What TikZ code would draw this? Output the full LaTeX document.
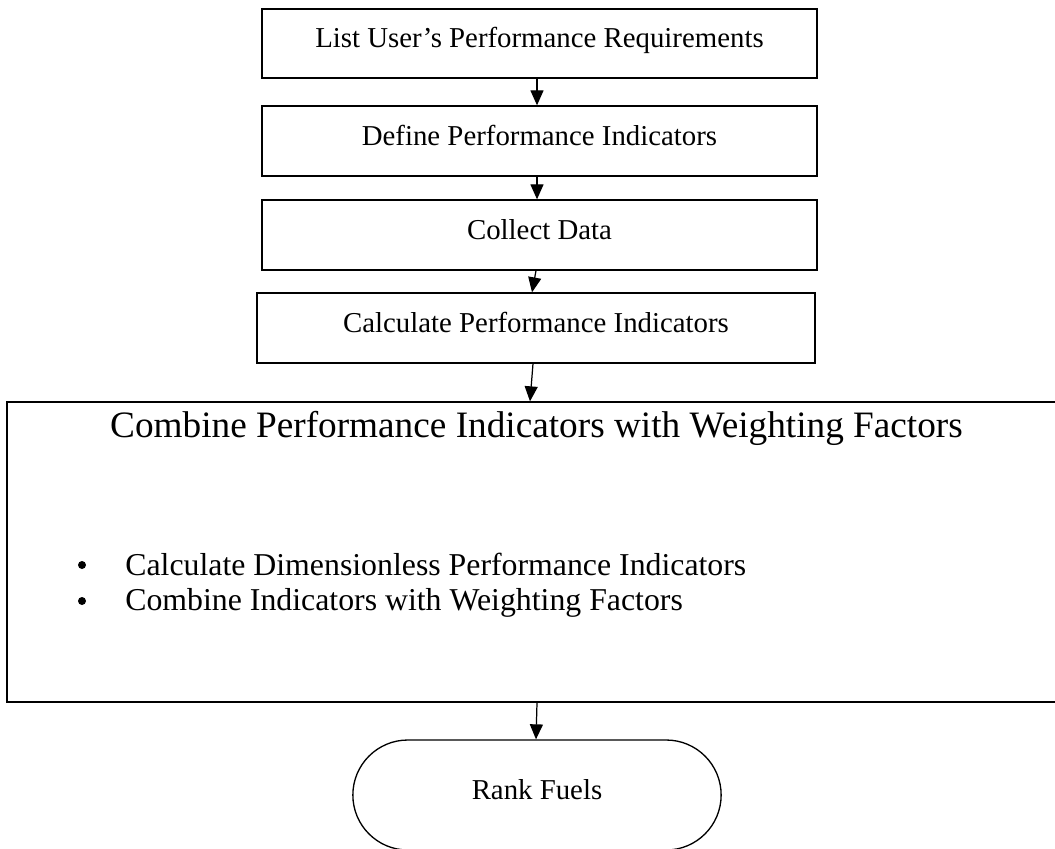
\documentclass[tikz,border=0pt]{standalone}
\usepackage{fontspec}
\setmainfont{Liberation Serif}
\usetikzlibrary{positioning,shapes.misc,arrows.meta}

\begin{document}
\begin{tikzpicture}[
    stepbox/.style={draw, line width=0.75pt, minimum width=11.1cm, minimum height=1.4cm,
        text height=0.40cm, text depth=0.24cm, font=\fontsize{16.4}{19}\selectfont},
    flow/.style={line width=0.7pt, -{Triangle[length=0.3cm, width=0.26cm]}}
]
    % Page size
    \useasboundingbox (0,0) rectangle (21.1,-16.96);
    \clip (0,0) rectangle (21.1,-16.96);

    % Draw steps
    \node[stepbox, minimum height=1.38cm] (list) at (10.79,-0.87) {List User’s Performance Requirements};
    \node[stepbox] (define) at (10.79,-2.82) {Define Performance Indicators};
    \node[stepbox] (collect) at (10.79,-4.70) {Collect Data};
    \node[stepbox, minimum width=11.16cm] (calc) at (10.72,-6.56) {Calculate Performance Indicators};

    % Draw combine box
    \node[draw, line width=0.75pt, minimum width=21.2cm, minimum height=6cm] (combine) at (10.74,-11.04) {};
    \node[anchor=base, font=\fontsize{21.2}{25}\selectfont] (combtitle) at (10.73,-8.74)
        {Combine Performance Indicators with Weighting Factors};
    \node[circle, fill, inner sep=0pt, minimum size=0.16cm] (dotA) at (1.64,-11.30) {};
    \node[anchor=base west, inner sep=0pt, font=\fontsize{18.1}{22}\selectfont] (itemA) at (2.50,-11.50)
        {Calculate Dimensionless Performance Indicators};
    \node[circle, fill, inner sep=0pt, minimum size=0.16cm] (dotB) at (1.64,-12.02) {};
    \node[anchor=base west, inner sep=0pt, font=\fontsize{18.1}{22}\selectfont] (itemB) at (2.50,-12.20)
        {Combine Indicators with Weighting Factors};

    % Draw end
    \node[draw, line width=0.75pt, rounded rectangle, minimum width=7.6cm, minimum height=2.2cm,
        text height=0.40cm, text depth=0.24cm,
        font=\fontsize{16.4}{19}\selectfont] (rank) at (10.74,-15.9) {Rank Fuels};

    % Draw arrows
    \draw[flow] ([xshift=-0.05cm]list.south) -- ([xshift=-0.05cm]define.north);
    \draw[flow] ([xshift=-0.05cm]define.south) -- ([xshift=-0.05cm]collect.north);
    \draw[flow] ([xshift=-0.07cm]collect.south) -- ([xshift=-0.08cm]calc.north);
    \draw[flow] ([xshift=-0.06cm]calc.south) -- ([xshift=-0.14cm]combine.north);
    \draw[flow] (combine.south) -- ([xshift=-0.02cm]rank.north);
\end{tikzpicture}
\end{document}
